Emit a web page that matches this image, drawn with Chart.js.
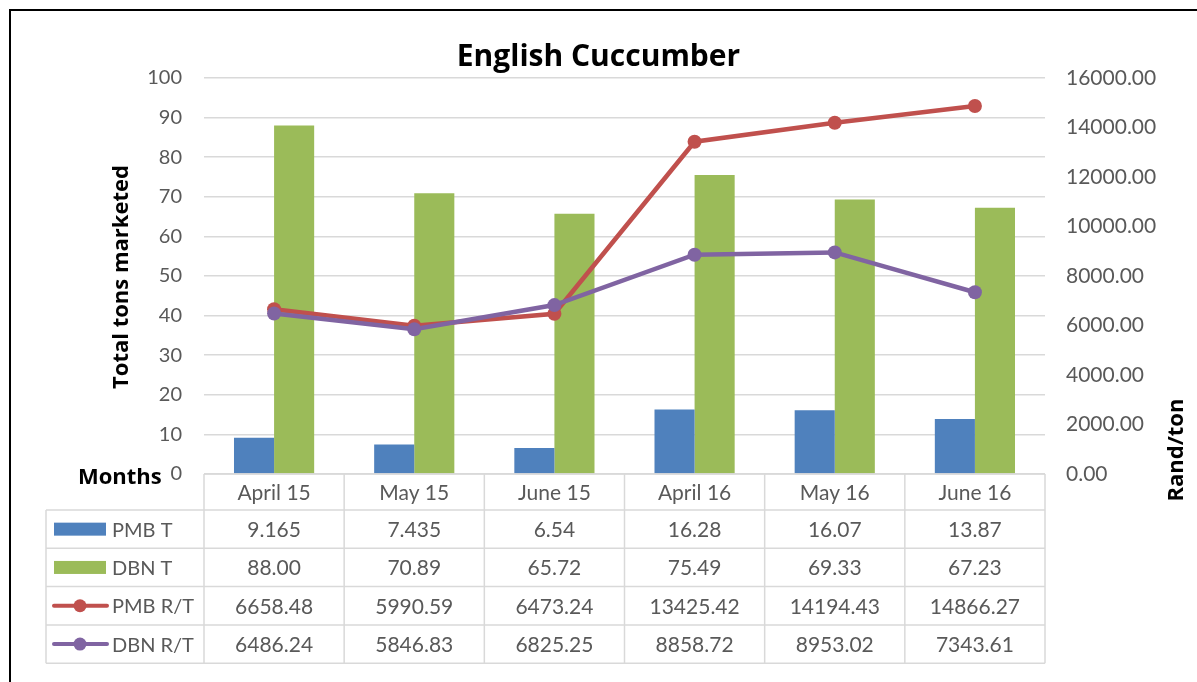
<!DOCTYPE html>
<html>
<head>
<meta charset="utf-8">
<script src="https://cdn.jsdelivr.net/npm/chart.js@4"></script>
<style>
  html, body { margin: 0; padding: 0; background: #fff; }
  #wrap { width: 1197px; height: 682px; }
</style>
</head>
<body>
<div id="wrap"><canvas id="myChart" width="1197" height="682"></canvas></div>
<script>
// chart data
const months = ['April 15', 'May 15', 'June 15', 'April 16', 'May 16', 'June 16'];
const pmbTons = [9.165, 7.435, 6.54, 16.28, 16.07, 13.87];
const dbnTons = [88.00, 70.89, 65.72, 75.49, 69.33, 67.23];
const pmbRandPerTon = [6658.48, 5990.59, 6473.24, 13425.42, 14194.43, 14866.27];
const dbnRandPerTon = [6486.24, 5846.83, 6825.25, 8858.72, 8953.02, 7343.61];

// table text as shown under the chart
const pmbTonsText = ['9.165', '7.435', '6.54', '16.28', '16.07', '13.87'];
const dbnTonsText = ['88.00', '70.89', '65.72', '75.49', '69.33', '67.23'];
const pmbRandText = ['6658.48', '5990.59', '6473.24', '13425.42', '14194.43', '14866.27'];
const dbnRandText = ['6486.24', '5846.83', '6825.25', '8858.72', '8953.02', '7343.61'];

const FONT = 'Lato, "Open Sans", sans-serif';
const BOLD_FONT = '"Open Sans", Lato, sans-serif';
const GREY = '#595959';
const BLUE = '#4f81bd', GREEN = '#9bbb59', RED = '#c0504d', PURPLE = '#8064a2';

//Draws the frame, axis titles and the data table
const extrasPlugin = {
    id: 'extras',
    afterDraw(chart) {
        const ctx = chart.ctx;
        const area = chart.chartArea;
        const x = chart.scales.x;
        const colW = (area.right - area.left) / months.length;
        const headerH = 36, rowH = 38.3;
        const tableLeft = 46;

        ctx.save();
        // frame
        ctx.strokeStyle = '#000';
        ctx.lineWidth = 2;
        ctx.beginPath();
        ctx.moveTo(10, 682);
        ctx.lineTo(10, 10);
        ctx.lineTo(1197, 10);
        ctx.stroke();

        // axis titles
        ctx.fillStyle = '#000';
        ctx.font = 'bold 22px ' + BOLD_FONT;
        ctx.textAlign = 'center';
        ctx.textBaseline = 'middle';
        ctx.save();
        ctx.translate(122, 277);
        ctx.rotate(-Math.PI / 2);
        ctx.fillText('Total tons marketed', 0, 0);
        ctx.restore();
        ctx.save();
        ctx.translate(1177, 450);
        ctx.rotate(-Math.PI / 2);
        ctx.fillText('Rand/ton', 0, 0);
        ctx.restore();
        ctx.textAlign = 'left';
        ctx.fillText('Months', 78, area.bottom + 4);

        // table grid
        const top = area.bottom;
        const rows = 4;
        const bottom = top + headerH + rows * rowH;
        ctx.strokeStyle = '#d9d9d9';
        ctx.lineWidth = 1.5;
        ctx.beginPath();
        ctx.moveTo(area.left, top);
        ctx.lineTo(area.right, top);
        for (let r = 0; r <= rows; r++) {
            const y = top + headerH + r * rowH;
            ctx.moveTo(tableLeft, y);
            ctx.lineTo(area.right, y);
        }
        ctx.moveTo(tableLeft, top + headerH);
        ctx.lineTo(tableLeft, bottom);
        for (let c = 0; c <= months.length; c++) {
            const xx = area.left + c * colW;
            ctx.moveTo(xx, top);
            ctx.lineTo(xx, bottom);
        }
        ctx.stroke();

        // header and values
        ctx.fillStyle = GREY;
        ctx.font = '21px ' + FONT;
        ctx.textAlign = 'center';
        const cols = [pmbTonsText, dbnTonsText, pmbRandText, dbnRandText];
        months.forEach((m, i) => {
            const cx = x.getPixelForValue(i);
            ctx.fillText(m, cx, top + headerH / 2 + 1);
            cols.forEach((vals, r) => {
                ctx.fillText(vals[i], cx, top + headerH + r * rowH + rowH / 2 + 1);
            });
        });

        // legend keys
        const keys = [
            { label: 'PMB T', color: BLUE, line: false },
            { label: 'DBN T', color: GREEN, line: false },
            { label: 'PMB R/T', color: RED, line: true },
            { label: 'DBN R/T', color: PURPLE, line: true }
        ];
        ctx.textAlign = 'left';
        ctx.font = '20px ' + FONT;
        keys.forEach((k, r) => {
            const cy = top + headerH + r * rowH + rowH / 2;
            if (k.line) {
                ctx.strokeStyle = k.color;
                ctx.lineWidth = 4;
                ctx.lineCap = 'round';
                ctx.beginPath();
                ctx.moveTo(54, cy);
                ctx.lineTo(107, cy);
                ctx.stroke();
                ctx.fillStyle = k.color;
                ctx.beginPath();
                ctx.arc(80, cy, 6.5, 0, Math.PI * 2);
                ctx.fill();
            } else {
                ctx.fillStyle = k.color;
                ctx.fillRect(54, cy - 6.5, 52, 13);
            }
            ctx.fillStyle = GREY;
            ctx.fillText(k.label, 112, cy + 1);
        });
        ctx.restore();
    }
};

function createChart() {
    const ctx = document.getElementById('myChart').getContext('2d');
    new Chart(ctx, {
        type: 'bar',
        data: {
            labels: months,
            datasets: [{
                type: 'line',
                label: 'DBN R/T',
                data: dbnRandPerTon,
                yAxisID: 'y1',
                borderColor: PURPLE,
                backgroundColor: PURPLE,
                borderWidth: 4.5,
                pointRadius: 7,
                pointHoverRadius: 7,
                pointBorderWidth: 0,
                order: 0
            },
            {
                type: 'line',
                label: 'PMB R/T',
                data: pmbRandPerTon,
                yAxisID: 'y1',
                borderColor: RED,
                backgroundColor: RED,
                borderWidth: 4.5,
                pointRadius: 7,
                pointHoverRadius: 7,
                pointBorderWidth: 0,
                order: 1
            },
            {
                label: 'PMB T',
                data: pmbTons,
                yAxisID: 'y',
                backgroundColor: BLUE,
                order: 2
            },
            {
                label: 'DBN T',
                data: dbnTons,
                yAxisID: 'y',
                backgroundColor: GREEN,
                order: 2
            }]
        },
        options: {
            responsive: false,
            animation: false,
            categoryPercentage: 0.572,
            barPercentage: 1,
            layout: { padding: { bottom: 208 } },
            plugins: {
                legend: { display: false },
                tooltip: { enabled: false },
                title: {
                    display: true,
                    text: 'English Cuccumber',
                    color: '#000',
                    font: { family: BOLD_FONT, size: 30, weight: 'bold' },
                    padding: { top: 39, bottom: 3 }
                }
            },
            scales: {
                x: { display: false },
                y: {
                    position: 'left',
                    min: 0,
                    max: 100,
                    ticks: {
                        stepSize: 10,
                        color: GREY,
                        padding: 22,
                        font: { family: FONT, size: 20 }
                    },
                    grid: { color: '#d9d9d9', lineWidth: 1.5, drawTicks: false },
                    border: { display: false },
                    afterFit: s => { s.width = 204; }
                },
                y1: {
                    position: 'right',
                    min: 0,
                    max: 16000,
                    ticks: {
                        stepSize: 2000,
                        color: GREY,
                        padding: 21,
                        font: { family: FONT, size: 21 },
                        callback: v => v.toFixed(2)
                    },
                    grid: { display: false, drawTicks: false },
                    border: { display: false },
                    afterFit: s => { s.width = 152; }
                }
            }
        },
        plugins: [extrasPlugin]
    });
}

createChart();
</script>
</body>
</html>
